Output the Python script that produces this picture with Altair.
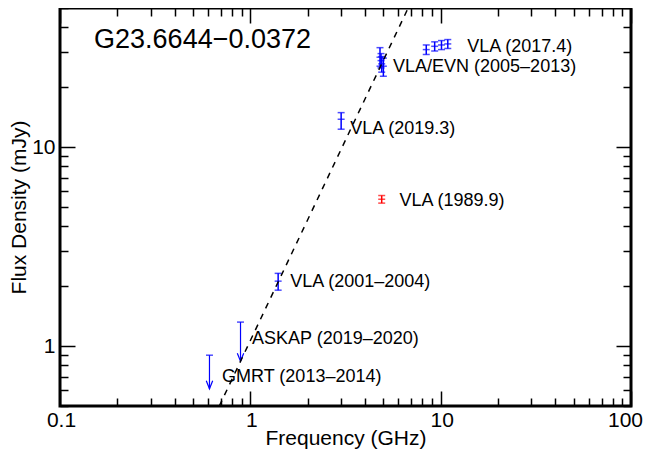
import altair as alt
import pandas as pd

# ---------------- data ----------------
# detections (frequency GHz, flux mJy, error-bar low / high)
det_freq = [1.4, 3.0, 4.8, 4.86, 4.9, 5.0, 8.4, 9.3, 10.1, 10.9, 4.9]
det_flux = [2.12, 13.8, 28.3, 27.2, 26.2, 25.5, 30.9, 32.1, 32.6, 33.0, 5.47]
det_lo = [1.91, 12.3, 25.5, 25.0, 23.8, 22.7, 29.2, 30.4, 30.9, 31.3, 5.23]
det_hi = [2.32, 14.9, 31.6, 29.5, 28.5, 28.0, 32.6, 33.8, 34.3, 34.7, 5.71]
det_group = ["blue"] * 10 + ["red"]

# upper limits (frequency, limit, arrow tip)
lim_freq = [0.61, 0.888]
lim_flux = [0.90, 1.32]
lim_tip = [0.61, 0.84]

# dashed spectral-index line endpoints
line_freq = [0.687, 6.75]
line_flux = [0.5, 50.0]

# annotation labels (anchor in data units)
lab_text = ["VLA (2017.4)", "VLA/EVN (2005–2013)", "VLA (2019.3)", "VLA (1989.9)",
            "VLA (2001–2004)", "ASKAP (2019–2020)", "GMRT (2013–2014)"]
lab_freq = [13.8, 5.62, 3.35, 6.07, 1.62, 1.02, 0.71]
lab_flux = [30.0, 23.8, 11.7, 5.07, 1.97, 1.02, 0.659]

title_text = ["G23.6644−0.0372"]
title_freq = [0.151]
title_flux = [31.5]

x_major = [0.1, 1, 10, 100]
x_ticks = [0.1, 0.2, 0.3, 0.4, 0.5, 0.6, 0.7, 0.8, 0.9,
           1, 2, 3, 4, 5, 6, 7, 8, 9,
           10, 20, 30, 40, 50, 60, 70, 80, 90, 100]
y_major = [1, 10]
y_ticks = [0.5, 0.6, 0.7, 0.8, 0.9, 1, 2, 3, 4, 5, 6, 7, 8, 9, 10, 20, 30, 40, 50]

# ---------------- chart ----------------
W, H = 571, 398
FONT = "Liberation Sans"

det = pd.DataFrame({"freq": det_freq, "flux": det_flux, "lo": det_lo, "hi": det_hi, "grp": det_group})
lim = pd.DataFrame({"freq": lim_freq, "flux": lim_flux, "tip": lim_tip})
line = pd.DataFrame({"freq": line_freq, "flux": line_flux})
labs = pd.DataFrame({"freq": lab_freq, "flux": lab_flux, "text": lab_text})
ttl = pd.DataFrame({"freq": title_freq, "flux": title_flux, "text": title_text})

xs = alt.Scale(type="log", domain=[0.1, 100], nice=False)
ys = alt.Scale(type="log", domain=[0.5, 50], nice=False)
cs = alt.Scale(domain=["blue", "red"], range=["#0000ff", "#ff0000"])

def xq(field, axis=None):
    return alt.X(field, type="quantitative", scale=xs, axis=axis)

def yq(field, axis=None):
    return alt.Y(field, type="quantitative", scale=ys, axis=axis)

def tick_axis(orient, values, majors, offset):
    test = " || ".join(f"datum.value == {v}" for v in majors)
    return alt.Axis(orient=orient, offset=offset, values=values, labels=False, domain=False,
                    grid=False, title=None, ticks=True, tickColor="black", tickWidth=1.5,
                    tickSize={"condition": {"test": test, "value": 15}, "value": 8})

col = alt.Color("grp:N", scale=cs, legend=None)

# main layer carrying label axes
x_label_axis = alt.Axis(values=x_major, format="~g", ticks=False, domain=False, grid=False,
                        labelFlush=False, labelOverlap=False, labelPadding=3,
                        labelOffset={"condition": {"test": "datum.value == 100", "value": -6}, "value": 1},
                        title="Frequency (GHz)", titlePadding=-3)
y_label_axis = alt.Axis(values=y_major, format="~g", ticks=False, domain=False, grid=False,
                        labelFlush=False, labelOverlap=False, labelPadding=5,
                        title="Flux Density (mJy)", titlePadding=2)

bars = alt.Chart(det).mark_rule(strokeWidth=1.5).encode(
    x=xq("freq", x_label_axis), y=yq("lo", y_label_axis), y2="hi", color=col)
caps_lo = alt.Chart(det).mark_tick(orient="horizontal", size=7, thickness=1.5).encode(
    x=xq("freq"), y=yq("lo"), color=col)
caps_hi = alt.Chart(det).mark_tick(orient="horizontal", size=7, thickness=1.5).encode(
    x=xq("freq"), y=yq("hi"), color=col)
centers = alt.Chart(det).mark_tick(orient="horizontal", size=7, thickness=1.5).encode(
    x=xq("freq"), y=yq("flux"), color=col)

lim_rule = alt.Chart(lim).mark_rule(strokeWidth=1.2, color="#0000ff").encode(
    x=xq("freq"), y=yq("flux"), y2="tip")
lim_cap = alt.Chart(lim).mark_tick(orient="horizontal", size=7, thickness=1.5, color="#0000ff").encode(
    x=xq("freq"), y=yq("flux"))
lim_head = alt.Chart(lim).mark_point(shape="M-0.4,-1L0,0L0.4,-1", size=256, filled=False,
                                      strokeWidth=1.2, color="#0000ff", opacity=1).encode(
    x=xq("freq"), y=yq("tip"))

dashed = alt.Chart(line).mark_line(color="black", strokeWidth=1.5, strokeDash=[6, 6]).encode(
    x=xq("freq"), y=yq("flux"))

labels = alt.Chart(labs).mark_text(align="left", baseline="alphabetic", font=FONT,
                                   fontSize=18, color="black").encode(
    x=xq("freq"), y=yq("flux"), text="text:N")
title = alt.Chart(ttl).mark_text(align="left", baseline="alphabetic", font=FONT,
                                 fontSize=27, color="black").encode(
    x=xq("freq"), y=yq("flux"), text="text:N")

# tick-only axes pointing into the frame
ticks_a = alt.Chart(line).mark_point(opacity=0).encode(
    x=xq("freq", tick_axis("top", x_ticks, x_major, -H)),
    y=yq("flux", tick_axis("right", y_ticks, y_major, -W)))
ticks_b = alt.Chart(line).mark_point(opacity=0).encode(
    x=xq("freq", tick_axis("bottom", x_ticks, x_major, -H)),
    y=yq("flux", tick_axis("left", y_ticks, y_major, -W)))

chart = alt.layer(
    bars, caps_lo, caps_hi, centers, lim_rule, lim_cap, lim_head, dashed, labels, title,
    ticks_a, ticks_b
).resolve_axis(x="independent", y="independent").properties(
    width=W, height=H,
    background="white",
    autosize=alt.AutoSizeParams(type="none"),
    padding={"left": 52, "top": 0, "right": 12, "bottom": 45},
).configure_view(stroke="black", strokeWidth=3).configure_axis(
    labelFont=FONT, titleFont=FONT, labelFontSize=21, titleFontSize=21,
    titleFontWeight="normal", labelColor="black", titleColor="black",
)

chart.save("out.html", embed_options={"renderer": "svg", "actions": False})
